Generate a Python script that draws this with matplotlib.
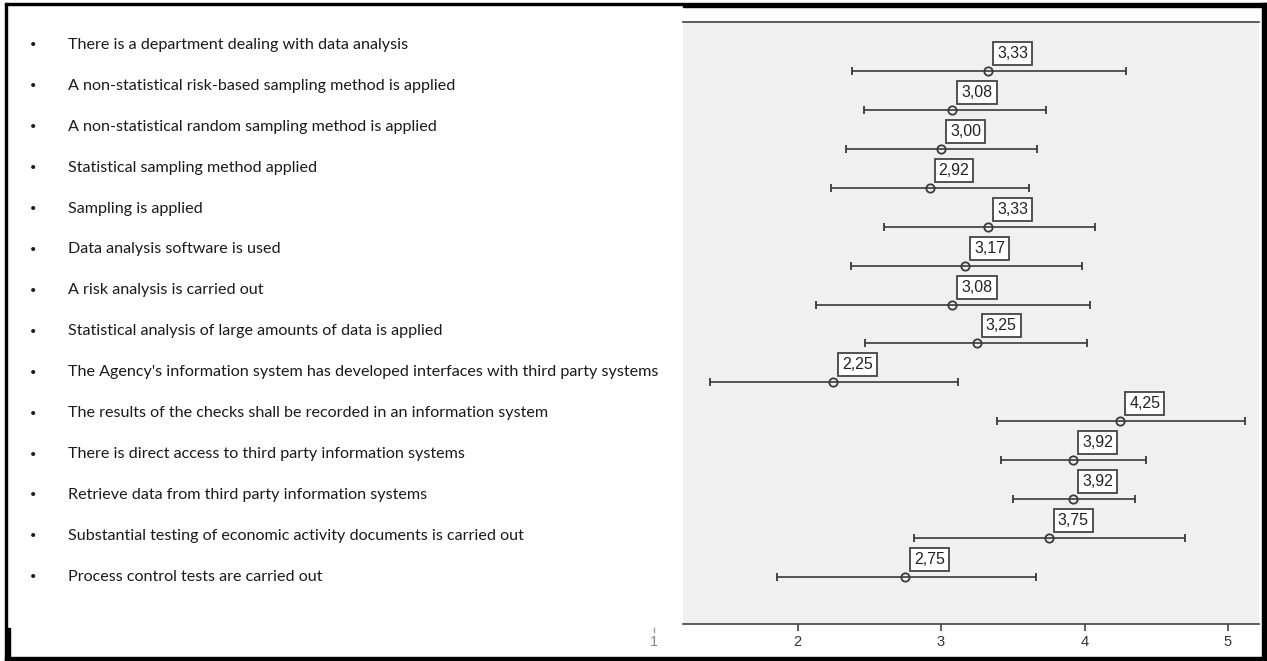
import matplotlib
matplotlib.use("Agg")
import matplotlib.pyplot as plt
import matplotlib.transforms as mtransforms
from matplotlib.patches import Rectangle

# ============================================================
# DADOS
# ============================================================

items = [
    "There is a department dealing with data analysis",
    "A non-statistical risk-based sampling method is applied",
    "A non-statistical random sampling method is applied",
    "Statistical sampling method applied",
    "Sampling is applied",
    "Data analysis software is used",
    "A risk analysis is carried out",
    "Statistical analysis of large amounts of data is applied",
    "The Agency's information system has developed interfaces with third party systems",
    "The results of the checks shall be recorded in an information system",
    "There is direct access to third party information systems",
    "Retrieve data from third party information systems",
    "Substantial testing of economic activity documents is carried out",
    "Process control tests are carried out",
]

means = [3.33, 3.08, 3.00, 2.92, 3.33, 3.17, 3.08, 3.25, 2.25, 4.25, 3.92, 3.92, 3.75, 2.75]
ci_low = [2.38, 2.46, 2.34, 2.23, 2.60, 2.37, 2.13, 2.47, 1.39, 3.39, 3.42, 3.50, 2.81, 1.86]
ci_high = [4.29, 3.73, 3.67, 3.61, 4.07, 3.98, 4.04, 4.02, 3.12, 5.12, 4.43, 4.35, 4.70, 3.66]

x_ticks = [2, 3, 4, 5]

# ============================================================
# FIGURA
# ============================================================

W, H = 1267, 661
fig = plt.figure(figsize=(W / 100, H / 100), dpi=100)


def fx(px):
    return px / W


def fy(py):
    return 1 - py / H


# area do grafico
ax = fig.add_axes([fx(683), fy(624), fx(1259) - fx(683), fy(22) - fy(624)])
ax.set_facecolor("#f0f0f0")

line_col = "#3a3a3a"
num_font = "Liberation Sans"

for i, (m, lo, hi) in enumerate(zip(means, ci_low, ci_high)):
    ax.errorbar(
        m, i,
        xerr=[[m - lo], [hi - m]],
        fmt="o",
        color=line_col,
        ecolor=line_col,
        elinewidth=1.2,
        capsize=3,
        capthick=1.2,
        markersize=6,
        markerfacecolor="none",
        markeredgecolor=line_col,
        markeredgewidth=1.3,
    )
    ax.annotate(
        f"{m:.2f}".replace(".", ","),
        xy=(m, i),
        xytext=(9, 10),
        textcoords="offset pixels",
        ha="left",
        va="bottom",
        fontsize=11.5,
        family=num_font,
        color="#222222",
        bbox=dict(boxstyle="square,pad=0.25", fc="white", ec="#444444", lw=1.3),
    )

ax.set_xlim(1.202, 5.216)
ax.set_ylim(14.21, -1.26)

ax.set_yticks([])
ax.set_xticks(x_ticks)
ax.set_xticklabels([str(t) for t in x_ticks], family=num_font, fontsize=10.5, color="#333333")
ax.tick_params(axis="x", length=5, width=1.2, color="#444444", pad=3)

for s in ["left", "right"]:
    ax.spines[s].set_visible(False)
ax.spines["top"].set_color("#444444")
ax.spines["top"].set_linewidth(1.2)
ax.spines["bottom"].set_color("#444444")
ax.spines["bottom"].set_linewidth(1.2)

# tick "1" cortado fora da area
trans = mtransforms.blended_transform_factory(ax.transData, ax.transAxes)
ax.plot([1, 1], [-0.006, -0.014], transform=trans, color="#999999", lw=1, clip_on=False)
ax.text(1, -0.018, "1", transform=trans, ha="center", va="top", fontsize=10.5,
        family=num_font, color="#888888", clip_on=False)

# ============================================================
# TEXTO A ESQUERDA
# ============================================================

for i, label in enumerate(items):
    y = 45 + 40.9 * i
    fig.text(fx(33), fy(y), "\u2022", ha="center", va="center", fontsize=8, color="#1a1a1a",
             family="Lato")
    fig.text(fx(68), fy(y), label, ha="left", va="center", fontsize=11.6, color="#1a1a1a",
             family="Lato")

# ============================================================
# MOLDURA
# ============================================================


def black_box(x0, y0, x1, y1):
    fig.patches.append(Rectangle((fx(x0), fy(y1)), fx(x1) - fx(x0), fy(y0) - fy(y1),
                                 transform=fig.transFigure, color="black", zorder=10))


black_box(5, 3, 683, 5)
black_box(683, 3, W, 7)
black_box(5, 3, 7, 628)
black_box(5, 628, 10, H)
black_box(5, 657, W, H)
black_box(1262, 3, W, H)

fig.savefig("out.png", dpi=100)
